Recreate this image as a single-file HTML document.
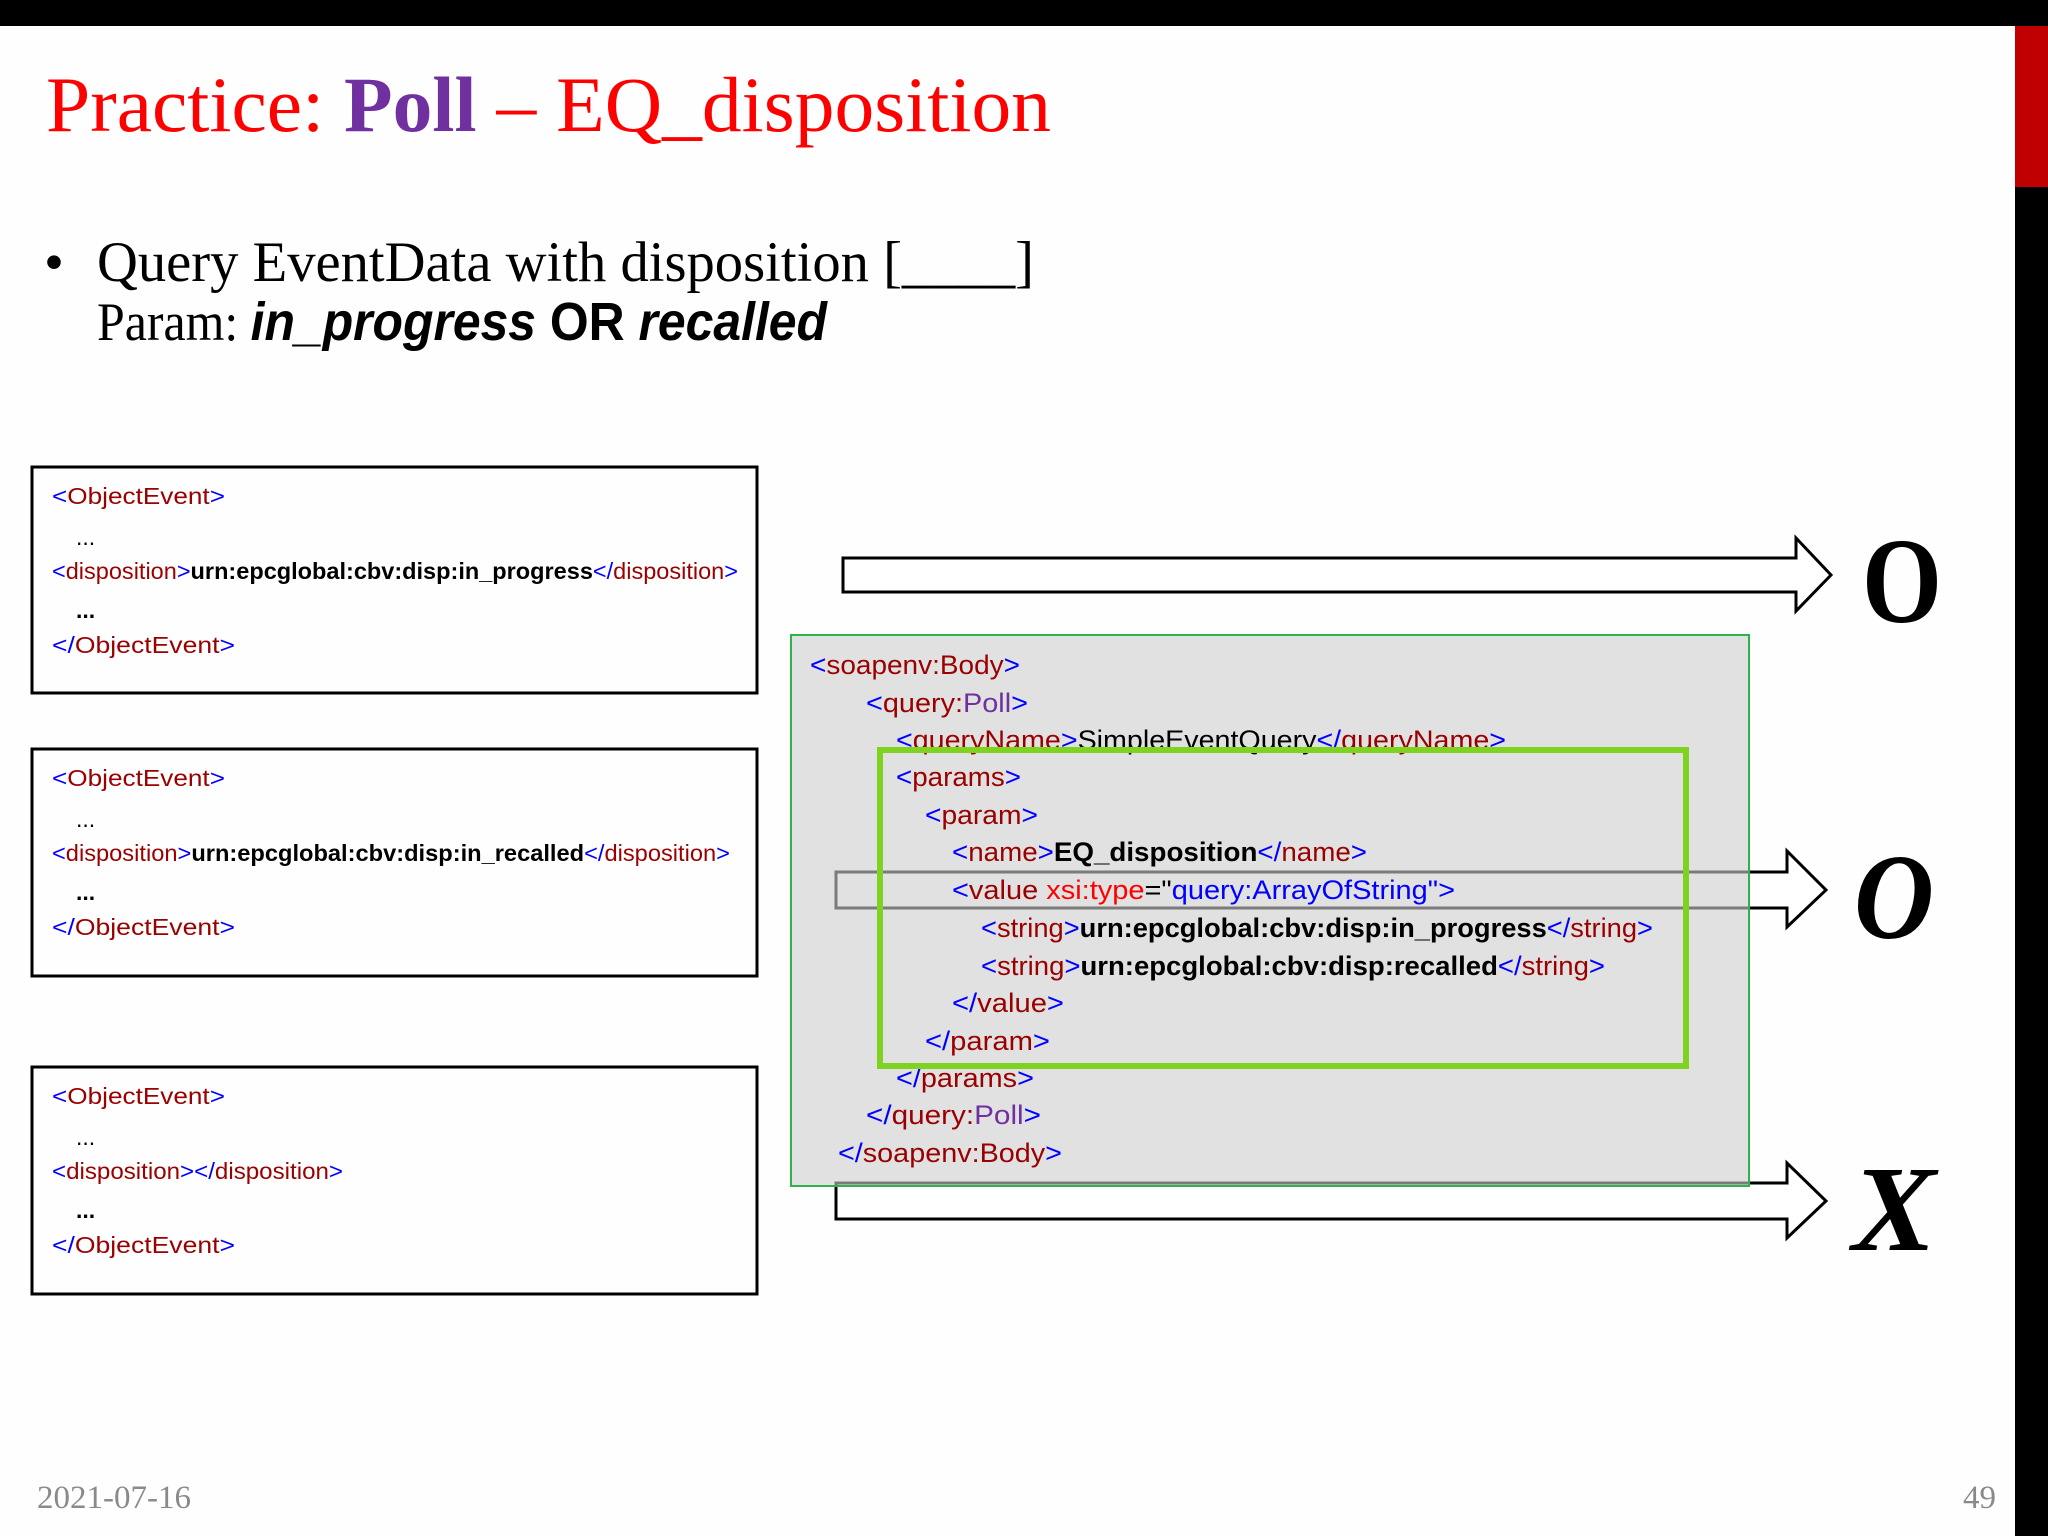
<!DOCTYPE html>
<html><head><meta charset="utf-8"><style>
html,body{margin:0;padding:0;background:#fff;width:2048px;height:1536px;overflow:hidden}
svg{display:block}
.c{font-family:"Liberation Sans",sans-serif}
.s{font-family:"Liberation Serif",serif}
.b{fill:#0000ff}.r{fill:#9a0000}.k{fill:#000;font-weight:bold}.p{fill:#7030a0}.rr{fill:#ff0000}
</style></head><body>
<svg width="2048" height="1536" viewBox="0 0 2048 1536" xmlns="http://www.w3.org/2000/svg">
<rect x="0" y="0" width="2048" height="1536" fill="#fefefe"/>
<rect x="0" y="0" width="2048" height="26" fill="#000"/>
<rect x="2015" y="26" width="33" height="1510" fill="#000"/>
<rect x="2015" y="26" width="33" height="161" fill="#c00000"/>

<text class="s" x="46" y="131" font-size="78" fill="#ff0000" textLength="1005" lengthAdjust="spacingAndGlyphs">Practice: <tspan fill="#7030a0" font-weight="bold">Poll</tspan> – EQ_disposition</text>

<text class="s" x="44" y="281" font-size="57" fill="#000">•</text>
<text class="s" x="97" y="281" font-size="57" fill="#000" textLength="937" lengthAdjust="spacingAndGlyphs">Query EventData with disposition [____]</text>
<text x="97" y="340" font-size="54" fill="#000" textLength="730" lengthAdjust="spacingAndGlyphs"><tspan class="s">Param: </tspan><tspan class="c" font-weight="bold" font-style="italic">in_progress </tspan><tspan class="c" font-weight="bold">OR </tspan><tspan class="c" font-weight="bold" font-style="italic">recalled</tspan></text>

<g fill="none" stroke="#000" stroke-width="3">
<rect x="32" y="467" width="725" height="226"/>
<rect x="32" y="749" width="725" height="227"/>
<rect x="32" y="1067" width="725" height="227"/>
</g>
<g class="c" font-size="23">
<text x="52" y="504" textLength="173" lengthAdjust="spacingAndGlyphs"><tspan class="b">&lt;</tspan><tspan class="r">ObjectEvent</tspan><tspan class="b">&gt;</tspan></text>
<text x="76" y="545">...</text>
<text x="52" y="579" textLength="686" lengthAdjust="spacingAndGlyphs"><tspan class="b">&lt;</tspan><tspan class="r">disposition</tspan><tspan class="b">&gt;</tspan><tspan class="k">urn:epcglobal:cbv:disp:in_progress</tspan><tspan class="b">&lt;/</tspan><tspan class="r">disposition</tspan><tspan class="b">&gt;</tspan></text>
<text x="76" y="618" font-weight="bold">...</text>
<text x="52" y="653" textLength="183" lengthAdjust="spacingAndGlyphs"><tspan class="b">&lt;/</tspan><tspan class="r">ObjectEvent</tspan><tspan class="b">&gt;</tspan></text>

<text x="52" y="786" textLength="173" lengthAdjust="spacingAndGlyphs"><tspan class="b">&lt;</tspan><tspan class="r">ObjectEvent</tspan><tspan class="b">&gt;</tspan></text>
<text x="76" y="827">...</text>
<text x="52" y="861" textLength="678" lengthAdjust="spacingAndGlyphs"><tspan class="b">&lt;</tspan><tspan class="r">disposition</tspan><tspan class="b">&gt;</tspan><tspan class="k">urn:epcglobal:cbv:disp:in_recalled</tspan><tspan class="b">&lt;/</tspan><tspan class="r">disposition</tspan><tspan class="b">&gt;</tspan></text>
<text x="76" y="900" font-weight="bold">...</text>
<text x="52" y="935" textLength="183" lengthAdjust="spacingAndGlyphs"><tspan class="b">&lt;/</tspan><tspan class="r">ObjectEvent</tspan><tspan class="b">&gt;</tspan></text>

<text x="52" y="1104" textLength="173" lengthAdjust="spacingAndGlyphs"><tspan class="b">&lt;</tspan><tspan class="r">ObjectEvent</tspan><tspan class="b">&gt;</tspan></text>
<text x="76" y="1145">...</text>
<text x="52" y="1179" textLength="291" lengthAdjust="spacingAndGlyphs"><tspan class="b">&lt;</tspan><tspan class="r">disposition</tspan><tspan class="b">&gt;&lt;/</tspan><tspan class="r">disposition</tspan><tspan class="b">&gt;</tspan></text>
<text x="76" y="1218" font-weight="bold">...</text>
<text x="52" y="1253" textLength="183" lengthAdjust="spacingAndGlyphs"><tspan class="b">&lt;/</tspan><tspan class="r">ObjectEvent</tspan><tspan class="b">&gt;</tspan></text>
</g>

<g fill="#fff" stroke="#000" stroke-width="3" stroke-linejoin="miter">
<polygon points="843,558 1796,558 1796,538 1831,575 1796,611 1796,592 843,592"/>
<polygon points="836,872 1787,872 1787,851 1826,890 1787,927 1787,908 836,908"/>
<polygon points="836,1183 1787,1183 1787,1163 1826,1201 1787,1238 1787,1219 836,1219"/>
</g>

<text class="s" x="1862" y="622" font-size="122" font-weight="bold" fill="#000" textLength="80" lengthAdjust="spacingAndGlyphs">O</text>
<text class="s" x="1854" y="938" font-size="122" font-weight="bold" font-style="italic" fill="#000" textLength="80" lengthAdjust="spacingAndGlyphs">O</text>
<text class="s" x="1852" y="1250" font-size="122" font-weight="bold" font-style="italic" fill="#000" textLength="84" lengthAdjust="spacingAndGlyphs">X</text>

<rect x="791" y="635" width="958" height="551" fill="rgb(205,205,205)" fill-opacity="0.6" stroke="#2db34a" stroke-width="2"/>
<g class="c" font-size="27">
<text x="810" y="674" textLength="210" lengthAdjust="spacingAndGlyphs"><tspan class="b">&lt;</tspan><tspan class="r">soapenv:Body</tspan><tspan class="b">&gt;</tspan></text>
<text x="866" y="712" textLength="162" lengthAdjust="spacingAndGlyphs"><tspan class="b">&lt;</tspan><tspan class="r">query:</tspan><tspan class="p">Poll</tspan><tspan class="b">&gt;</tspan></text>
<text x="896" y="749" textLength="610" lengthAdjust="spacingAndGlyphs"><tspan class="b">&lt;</tspan><tspan class="r">queryName</tspan><tspan class="b">&gt;</tspan><tspan fill="#000">SimpleEventQuery</tspan><tspan class="b">&lt;/</tspan><tspan class="r">queryName</tspan><tspan class="b">&gt;</tspan></text>
<text x="896" y="786" textLength="125" lengthAdjust="spacingAndGlyphs"><tspan class="b">&lt;</tspan><tspan class="r">params</tspan><tspan class="b">&gt;</tspan></text>
<text x="925" y="824" textLength="113" lengthAdjust="spacingAndGlyphs"><tspan class="b">&lt;</tspan><tspan class="r">param</tspan><tspan class="b">&gt;</tspan></text>
<text x="952" y="861" textLength="415" lengthAdjust="spacingAndGlyphs"><tspan class="b">&lt;</tspan><tspan class="r">name</tspan><tspan class="b">&gt;</tspan><tspan class="k">EQ_disposition</tspan><tspan class="b">&lt;/</tspan><tspan class="r">name</tspan><tspan class="b">&gt;</tspan></text>
<text x="952" y="899" textLength="503" lengthAdjust="spacingAndGlyphs"><tspan class="b">&lt;</tspan><tspan class="r">value </tspan><tspan class="rr">xsi:type</tspan><tspan fill="#000">="</tspan><tspan class="b">query:ArrayOfString</tspan><tspan class="b">"&gt;</tspan></text>
<text x="981" y="937" textLength="672" lengthAdjust="spacingAndGlyphs"><tspan class="b">&lt;</tspan><tspan class="r">string</tspan><tspan class="b">&gt;</tspan><tspan class="k">urn:epcglobal:cbv:disp:in_progress</tspan><tspan class="b">&lt;/</tspan><tspan class="r">string</tspan><tspan class="b">&gt;</tspan></text>
<text x="981" y="975" textLength="624" lengthAdjust="spacingAndGlyphs"><tspan class="b">&lt;</tspan><tspan class="r">string</tspan><tspan class="b">&gt;</tspan><tspan class="k">urn:epcglobal:cbv:disp:recalled</tspan><tspan class="b">&lt;/</tspan><tspan class="r">string</tspan><tspan class="b">&gt;</tspan></text>
<text x="952" y="1012" textLength="112" lengthAdjust="spacingAndGlyphs"><tspan class="b">&lt;/</tspan><tspan class="r">value</tspan><tspan class="b">&gt;</tspan></text>
<text x="925" y="1050" textLength="125" lengthAdjust="spacingAndGlyphs"><tspan class="b">&lt;/</tspan><tspan class="r">param</tspan><tspan class="b">&gt;</tspan></text>
<text x="896" y="1087" textLength="138" lengthAdjust="spacingAndGlyphs"><tspan class="b">&lt;/</tspan><tspan class="r">params</tspan><tspan class="b">&gt;</tspan></text>
<text x="866" y="1124" textLength="175" lengthAdjust="spacingAndGlyphs"><tspan class="b">&lt;/</tspan><tspan class="r">query:</tspan><tspan class="p">Poll</tspan><tspan class="b">&gt;</tspan></text>
<text x="838" y="1162" textLength="224" lengthAdjust="spacingAndGlyphs"><tspan class="b">&lt;/</tspan><tspan class="r">soapenv:Body</tspan><tspan class="b">&gt;</tspan></text>
</g>
<rect x="880" y="750" width="806" height="316" fill="none" stroke="#7ed321" stroke-width="6"/>

<text class="s" x="37" y="1508" font-size="33" fill="#8a8a8a">2021-07-16</text>
<text class="s" x="1963" y="1508" font-size="33" fill="#8a8a8a">49</text>
</svg>
</body></html>
